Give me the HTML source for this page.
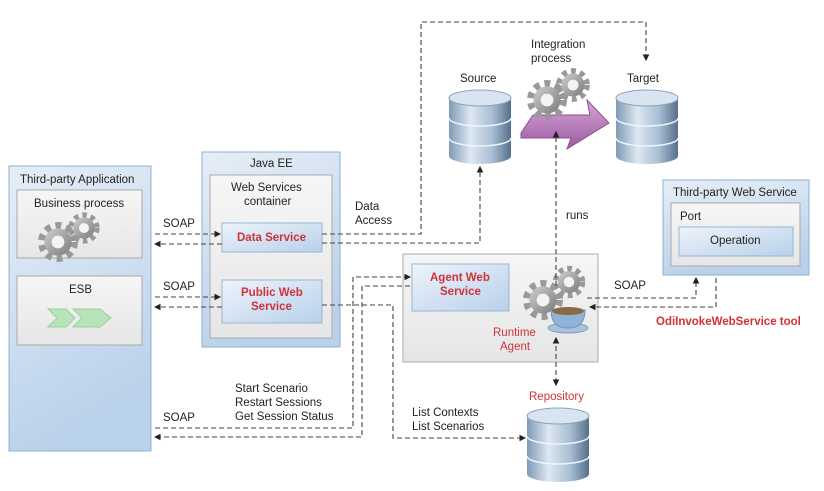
<!DOCTYPE html>
<html><head><meta charset="utf-8"><style>
html,body{margin:0;padding:0;background:#fff;}
svg{display:block;}
text{font-family:"Liberation Sans",sans-serif;font-size:11.5px;fill:#222;}
.red{fill:#d0323a;}
.b{font-weight:bold;}
.d{fill:none;stroke:#444;stroke-width:1.1;stroke-dasharray:5,3;}
</style></head><body>
<svg width="824" height="491" viewBox="0 0 824 491" xmlns="http://www.w3.org/2000/svg">
<defs>
<linearGradient id="bl" x1="0" y1="0" x2="0.3" y2="1"><stop offset="0" stop-color="#e6eef7"/><stop offset="1" stop-color="#b9d1ea"/></linearGradient>
<linearGradient id="in" x1="0" y1="0" x2="1" y2="1"><stop offset="0" stop-color="#eef4fb"/><stop offset="1" stop-color="#b8d0ea"/></linearGradient>
<linearGradient id="gr" x1="0" y1="0" x2="0" y2="1"><stop offset="0" stop-color="#f6f6f6"/><stop offset="1" stop-color="#e6e6e6"/></linearGradient>
<linearGradient id="db" x1="0" y1="0" x2="1" y2="0"><stop offset="0" stop-color="#7f9ab5"/><stop offset="0.35" stop-color="#dde8f2"/><stop offset="0.7" stop-color="#a7bdd2"/><stop offset="1" stop-color="#56708a"/></linearGradient>
<linearGradient id="pu" x1="0" y1="0" x2="0" y2="1"><stop offset="0" stop-color="#d9a6d9"/><stop offset="1" stop-color="#9a5a9e"/></linearGradient>
<linearGradient id="gg" x1="0" y1="0" x2="1" y2="1"><stop offset="0" stop-color="#d0d0d0"/><stop offset="1" stop-color="#7a7a7a"/></linearGradient>
<marker id="a" markerWidth="6" markerHeight="6" refX="5" refY="3" orient="auto"><path d="M0,0 L6,3 L0,6 z" fill="#222"/></marker>
<marker id="s" markerWidth="6" markerHeight="6" refX="1" refY="3" orient="auto"><path d="M6,0 L0,3 L6,6 z" fill="#222"/></marker>
<g id="gear"><circle r="10" fill="none" stroke="#999" stroke-width="5" stroke-dasharray="3.5,3"/><circle r="8.5" fill="url(#gg)"/><circle r="4" fill="#f4f4f4"/></g>
<g id="cyl">
<path d="M0,8 v58 a31,8 0 0 0 62,0 v-58" fill="url(#db)"/>
<ellipse cx="31" cy="8" rx="31" ry="8" fill="#d8e4ef" stroke="#8aa3bb"/>
<path d="M0,28 a31,8 0 0 0 62,0 M0,48 a31,8 0 0 0 62,0" fill="none" stroke="#eef4f9" stroke-width="1.5"/>
</g>
</defs>

<rect x="9" y="166" width="142" height="285" fill="url(#bl)" stroke="#8fb0d3"/>
<text x="20" y="183">Third-party Application</text>
<rect x="17" y="190" width="125" height="68" fill="url(#gr)" stroke="#aaa"/>
<text x="34" y="207">Business process</text>
<use href="#gear" transform="translate(58,242) scale(1.6)"/>
<use href="#gear" transform="translate(84,228) scale(1.25)"/>
<rect x="17" y="276" width="125" height="69" fill="url(#gr)" stroke="#aaa"/>
<text x="69" y="293">ESB</text>
<path d="M48,309 h18 l9,9 l-9,9 h-18 l9,-9 z M73,309 h27 l11,9 l-11,9 h-27 l9,-9 z" fill="#b7e4b8" stroke="#9ccf9e"/>

<rect x="202" y="152" width="138" height="195" fill="url(#bl)" stroke="#8fb0d3"/>
<text x="250" y="167">Java EE</text>
<rect x="210" y="175" width="122" height="163" fill="url(#gr)" stroke="#aaa"/>
<text x="231" y="191">Web Services</text>
<text x="244" y="205">container</text>
<rect x="222" y="223" width="100" height="29" fill="url(#in)" stroke="#9ab6d2"/>
<text x="237" y="241" class="red b">Data Service</text>
<rect x="222" y="280" width="100" height="43" fill="url(#in)" stroke="#9ab6d2"/>
<text x="241" y="296" class="red b">Public Web</text>
<text x="251" y="310" class="red b">Service</text>

<rect x="403" y="254" width="195" height="108" fill="url(#gr)" stroke="#aaa"/>
<rect x="412" y="264" width="97" height="47" fill="url(#in)" stroke="#9ab6d2"/>
<text x="430" y="281" class="red b">Agent Web</text>
<text x="440" y="295" class="red b">Service</text>
<text x="493" y="336" class="red">Runtime</text>
<text x="500" y="350" class="red">Agent</text>
<use href="#gear" transform="translate(543,300) scale(1.6)"/>
<use href="#gear" transform="translate(569,282) scale(1.3)"/>
<ellipse cx="568" cy="328" rx="20" ry="5" fill="#a9c3df" stroke="#7e9ec0"/>
<path d="M551,310 h34 q0,18 -17,18 q-17,0 -17,-18z" fill="#8fb3d8" stroke="#6f93ba"/>
<ellipse cx="568" cy="311" rx="16" ry="4" fill="#8a6a45"/>

<rect x="663" y="180" width="146" height="95" fill="url(#bl)" stroke="#8fb0d3"/>
<text x="673" y="196">Third-party Web Service</text>
<rect x="671" y="203" width="129" height="63" fill="url(#gr)" stroke="#aaa"/>
<text x="680" y="220">Port</text>
<rect x="679" y="227" width="114" height="29" fill="url(#in)" stroke="#9ab6d2"/>
<text x="710" y="244">Operation</text>

<text x="460" y="82">Source</text>
<text x="531" y="48">Integration</text>
<text x="531" y="62">process</text>
<text x="627" y="82">Target</text>
<use href="#cyl" x="449" y="90"/>
<use href="#cyl" x="616" y="90"/>
<path d="M521,133 l12,-18 h57 l-3,-15 l22,23 l-42,26 l4,-11 h-50 z" fill="url(#pu)" stroke="#8a4f8e"/>
<use href="#gear" transform="translate(547,100) scale(1.6)"/>
<use href="#gear" transform="translate(573,85) scale(1.35)"/>

<text x="529" y="400" class="red">Repository</text>
<use href="#cyl" x="527" y="408"/>

<text x="163" y="227">SOAP</text>
<text x="163" y="290">SOAP</text>
<text x="163" y="421">SOAP</text>
<text x="355" y="210">Data</text>
<text x="355" y="224">Access</text>
<text x="235" y="392">Start Scenario</text>
<text x="235" y="406">Restart Sessions</text>
<text x="235" y="420">Get Session Status</text>
<text x="412" y="416">List Contexts</text>
<text x="412" y="430">List Scenarios</text>
<text x="566" y="219">runs</text>
<text x="614" y="289">SOAP</text>
<text x="656" y="325" class="red b">OdiInvokeWebService tool</text>

<path class="d" d="M155,234 H220" marker-end="url(#a)"/>
<path class="d" d="M222,244 H155" marker-end="url(#a)"/>
<path class="d" d="M322,234 H421 V22 H646 V60" marker-end="url(#a)"/>
<path class="d" d="M322,243 H480 V167" marker-end="url(#a)"/>
<path class="d" d="M155,297 H220" marker-end="url(#a)"/>
<path class="d" d="M222,307 H155" marker-end="url(#a)"/>
<path class="d" d="M155,428 H353 V277 H410" marker-end="url(#a)"/>
<path class="d" d="M410,286 H362 V437 H155" marker-end="url(#a)"/>
<path class="d" d="M322,305 H393 V438 H525" marker-end="url(#a)"/>
<path class="d" d="M556,286 V132" marker-end="url(#a)"/>
<path class="d" d="M556,338 V385" marker-start="url(#s)" marker-end="url(#a)"/>
<path class="d" d="M587,298 H696 V278" marker-end="url(#a)"/>
<path class="d" d="M716,278 V307 H590" marker-end="url(#a)"/>
</svg>
</body></html>
